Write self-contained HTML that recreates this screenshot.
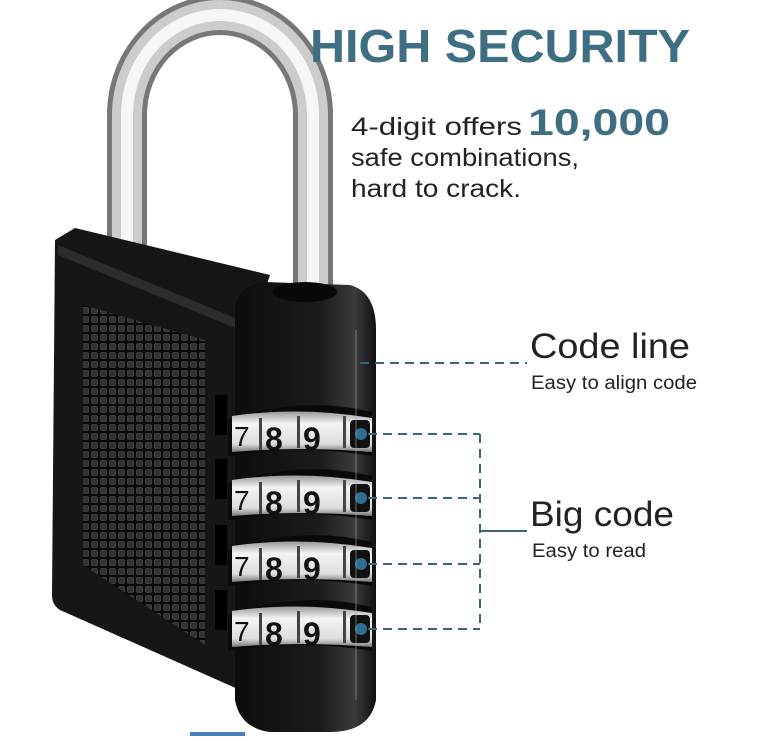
<!DOCTYPE html>
<html><head><meta charset="utf-8"><style>
body{margin:0;background:#fff;width:771px;height:736px;overflow:hidden;font-family:"Liberation Sans",sans-serif}
</style></head><body>
<svg width="771" height="736" viewBox="0 0 771 736" xmlns="http://www.w3.org/2000/svg">
<defs>
<linearGradient id="cyl" x1="0" x2="1" y1="0" y2="0">
<stop offset="0" stop-color="#0c0c0c"/><stop offset="0.6" stop-color="#1c1c1c"/><stop offset="0.85" stop-color="#3a3a3a"/><stop offset="1" stop-color="#111"/>
</linearGradient>
<linearGradient id="band" x1="0" x2="0" y1="0" y2="1">
<stop offset="0" stop-color="#999"/><stop offset="0.3" stop-color="#f4f4f4"/><stop offset="0.8" stop-color="#ddd"/><stop offset="1" stop-color="#777"/>
</linearGradient>
<pattern id="grid" width="9" height="9" patternUnits="userSpaceOnUse">
<rect width="9" height="9" fill="#0a0a0a"/><rect x="1.5" y="1.5" width="6" height="6" rx="1" fill="#333" stroke="#555" stroke-width="0.6"/>
</pattern>
</defs>
<!-- shackle -->
<path d="M127 265 L127 115 A93 100 0 0 1 313 115 L313 300" fill="none" stroke="#777" stroke-width="40"/>
<path d="M127 265 L127 115 A93 100 0 0 1 313 115 L313 300" fill="none" stroke="#ccc" stroke-width="30"/>
<path d="M127 265 L127 115 A93 100 0 0 1 313 115 L313 300" fill="none" stroke="#f6f6f6" stroke-width="12"/>
<!-- body left face -->
<path d="M55 240 L75 228 L270 275 L255 320 L240 690 L60 610 Q52 605 52 595 Z" fill="#161616"/>
<path d="M58 245 L240 320 L240 330 L58 255 Z" fill="#2c2c2c"/>
<path d="M83 305 L205 340 L205 645 L83 565 Z" fill="url(#grid)"/>
<!-- cylinder -->
<path d="M235 305 Q240 285 265 282 L350 285 Q376 292 376 330 L376 700 Q370 732 330 732 L270 732 Q240 728 235 700 Z" fill="url(#cyl)"/>
<ellipse cx="305" cy="292" rx="32" ry="10" fill="#080808"/>
<!-- dials -->
<g id="d">
<rect x="215" y="395" width="12" height="40" fill="#000"/>
<path d="M228 420 Q300 395 372 412 L372 456 Q300 444 228 456 Z" fill="#0a0a0a"/>
<path d="M232 416 Q300 406 372 418 L372 452 Q300 446 232 452 Z" fill="url(#band)"/>
<text x="234" y="446" font-size="28" fill="#111">7</text>
<rect x="259" y="418" width="3" height="32" fill="#444"/>
<text x="265" y="450" font-size="32" font-weight="bold" fill="#111">8</text>
<rect x="297" y="416" width="3" height="32" fill="#444"/>
<text x="303" y="450" font-size="32" font-weight="bold" fill="#111">9</text>
<rect x="343" y="416" width="3" height="32" fill="#444"/>
<rect x="350" y="420" width="20" height="28" rx="4" fill="#111"/>
<circle cx="361" cy="434" r="6" fill="#2d6f94"/>
</g>
<use href="#d" y="64"/>
<use href="#d" y="130"/>
<use href="#d" y="195"/>
<line x1="356" y1="330" x2="356" y2="700" stroke="#aaa" stroke-width="1" opacity="0.6"/>
<!-- connectors -->
<g stroke="#3d6675" stroke-width="2" stroke-dasharray="9,6" fill="none">
<line x1="360" y1="363" x2="527" y2="363"/>
<line x1="368" y1="434" x2="480" y2="434"/>
<line x1="368" y1="498" x2="480" y2="498"/>
<line x1="368" y1="564" x2="480" y2="564"/>
<line x1="368" y1="629" x2="480" y2="629"/>
<line x1="480" y1="434" x2="480" y2="629"/>
</g>
<line x1="480" y1="531" x2="527" y2="531" stroke="#3d6675" stroke-width="2"/>
<!-- text -->
<text x="310" y="62" font-size="46" font-weight="bold" fill="#3e6e82" textLength="380" lengthAdjust="spacingAndGlyphs">HIGH SECURITY</text>
<text x="351" y="135" font-size="25" fill="#222" textLength="171" lengthAdjust="spacingAndGlyphs">4-digit offers</text>
<text x="528" y="135" font-size="37" font-weight="bold" fill="#3e6e82" textLength="142" lengthAdjust="spacingAndGlyphs">10,000</text>
<text x="351" y="166" font-size="25" fill="#222" textLength="228" lengthAdjust="spacingAndGlyphs">safe combinations,</text>
<text x="351" y="197" font-size="25" fill="#222" textLength="170" lengthAdjust="spacingAndGlyphs">hard to crack.</text>
<text x="530" y="358" font-size="35" fill="#222" textLength="160" lengthAdjust="spacingAndGlyphs">Code line</text>
<text x="531" y="389" font-size="19" fill="#222" textLength="166" lengthAdjust="spacingAndGlyphs">Easy to align code</text>
<text x="530" y="526" font-size="35" fill="#222" textLength="144" lengthAdjust="spacingAndGlyphs">Big code</text>
<text x="532" y="557" font-size="19" fill="#222" textLength="114" lengthAdjust="spacingAndGlyphs">Easy to read</text>
<rect x="190" y="732" width="55" height="4" fill="#4a7fc0"/>
</svg>
</body></html>
